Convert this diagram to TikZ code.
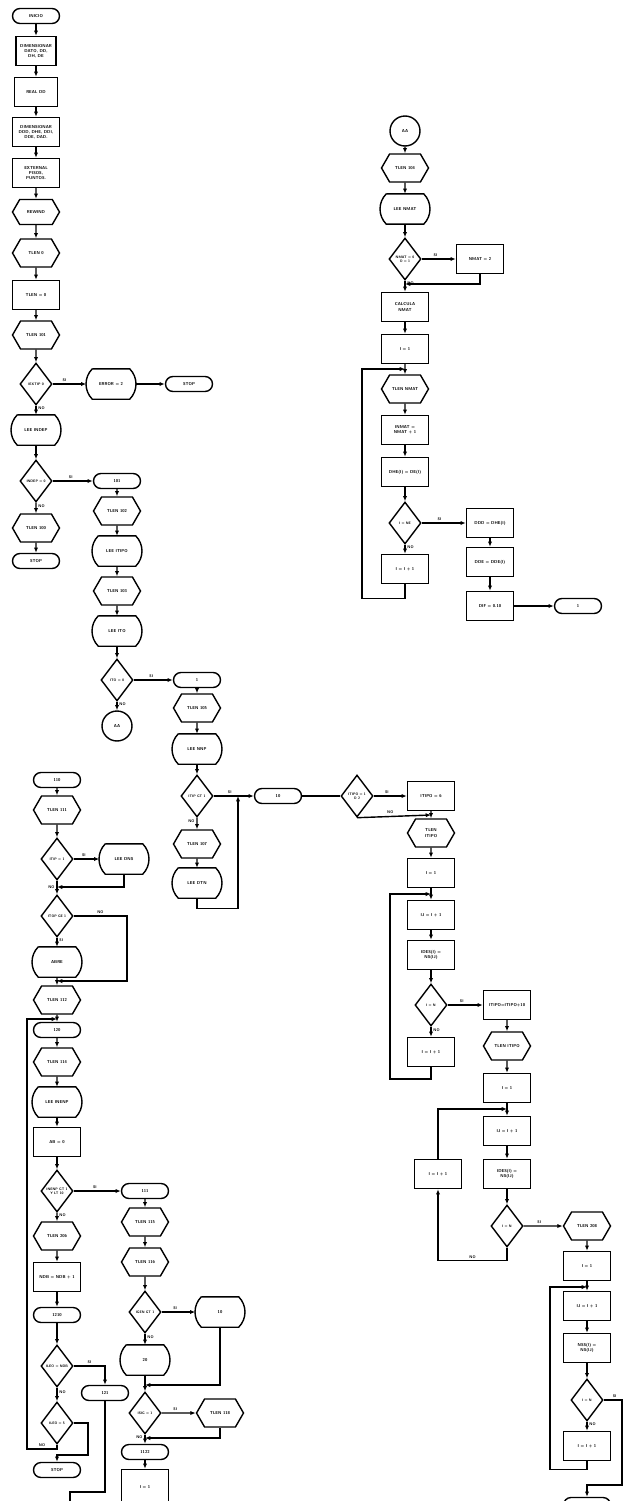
\documentclass[tikz,border=0pt]{standalone}
\usepackage{tikz}
\usetikzlibrary{arrows.meta,positioning,shapes.geometric,shapes.symbols,calc}

% read box: flat top and bottom, bulging sides
\newcommand{\leebox}[1]{%
  \draw ([xshift=0.12cm]#1.north west) -- ([xshift=-0.12cm]#1.north east)
    to[bend left=45] ([xshift=-0.12cm]#1.south east)
    -- ([xshift=0.12cm]#1.south west) to[bend left=45] ([xshift=0.12cm]#1.north west);}

\begin{document}
\begin{tikzpicture}[x=0.02cm, y=-0.02cm, line width=0.8pt,
  every node/.style={font=\fontsize{2.4}{3}\selectfont\sffamily\bfseries, inner sep=0pt, align=center},
  proc/.style={draw, rectangle, minimum width=0.94cm, minimum height=0.58cm},
  term/.style={draw, rectangle, rounded corners=0.15cm, minimum width=0.94cm, minimum height=0.3cm},
  hexa/.style={draw, signal, signal to=east and west, signal pointer angle=120, minimum width=0.94cm, minimum height=0.56cm},
  lee/.style={rectangle, minimum width=0.96cm, minimum height=0.58cm},
  cond/.style={draw, diamond, aspect=0.75, minimum width=0.64cm, minimum height=0.84cm, font=\fontsize{2}{2.5}\selectfont\sffamily\bfseries},
  conn/.style={draw, circle, minimum size=0.6cm},
  arr/.style={-{Latex[length=3pt,width=2.4pt]}},
  lbl/.style={font=\fontsize{2.2}{2.6}\selectfont\sffamily\bfseries, inner sep=1pt}]

  \useasboundingbox (0,0) rectangle (624,1501);
  \clip (0,0) rectangle (624,1501);

  % start of the program
  \node[term] (inicio) at (36,16) {INICIO};
  \node[proc, minimum width=0.8cm] (dimA) at (36,51) {DIMENSIONAR\\ DATO, DD,\\ DH, DE};
  \node[proc, minimum width=0.86cm] (realDD) at (36,92) {REAL DD};
  \node[proc] (dimB) at (36,132) {DIMENSIONAR\\ DDD, DHE, DDI,\\ DDE, DAD.};
  \node[proc] (extern) at (36,173) {EXTERNAL\\ PISOS,\\ PUNTOS.};
  \node[hexa, minimum height=0.5cm] (rewind) at (36,212) {REWIND};
  \node[hexa] (tlenA) at (36,253) {TLEN 0};
  \node[proc] (setT) at (36,295) {TLEN = 0};
  \node[hexa] (tlenB) at (36,335) {TLEN 101};
  \node[cond] (qExt) at (36,384) {IEXTIP 0};
  \node[lee] (err) at (111,384) {ERROR = 2};
  \node[term] (stopA) at (189,384) {STOP};
  \node[lee] (leeInd) at (36,430) {LEE INDEP};
  \node[cond] (qInd) at (36,481) {INDEP = 0};
  \node[hexa] (tlenC) at (36,528) {TLEN 100};
  \node[term] (stopB) at (36,561) {STOP};

  \draw[arr] (inicio) -- (dimA);
  \draw[arr] (dimA) -- (realDD);
  \draw[arr] (realDD) -- (dimB);
  \draw[arr] (dimB) -- (extern);
  \draw[arr] (extern) -- (rewind);
  \draw[arr] (rewind) -- (tlenA);
  \draw[arr] (tlenA) -- (setT);
  \draw[arr] (setT) -- (tlenB);
  \draw[arr] (tlenB) -- (qExt);
  \draw[arr] (qExt) -- node[lbl, above, pos=0.35] {SI} (err);
  \draw[arr] (err) -- (stopA);
  \draw[arr] (qExt) -- node[lbl, right, pos=0.3] {NO} (leeInd);
  \draw[arr] (leeInd) -- (qInd);
  \draw[arr] (qInd) -- node[lbl, right, pos=0.3] {NO} (tlenC);
  \draw[arr] (tlenC) -- (stopB);

  % branch 101
  \node[term] (t101) at (117,481) {101};
  \node[hexa] (tlenD) at (117,511) {TLEN 102};
  \node[lee] (leeTipo) at (117,551) {LEE ITIPO};
  \node[hexa] (tlenE) at (117,591) {TLEN 103};
  \node[lee] (leeIto) at (117,631) {LEE ITO};
  \node[cond] (qIto) at (117,680) {ITO = 0};
  \node[conn] (conAA) at (117,726) {AA};

  \draw[arr] (qInd) -- node[lbl, above, pos=0.45] {SI} (t101);
  \draw[arr] (t101) -- (tlenD);
  \draw[arr] (tlenD) -- (leeTipo);
  \draw[arr] (leeTipo) -- (tlenE);
  \draw[arr] (tlenE) -- (leeIto);
  \draw[arr] (leeIto) -- (qIto);
  \draw[arr] (qIto) -- node[lbl, right, pos=0.3] {NO} (conAA);

  % branch 1
  \node[term] (tOne) at (197,680) {1};
  \node[hexa] (tlenF) at (197,708) {TLEN 105};
  \node[lee] (leeNnp) at (197,749) {LEE NNP};
  \node[cond] (qTip) at (197,796) {ITIP GT 1};
  \node[hexa] (tlenG) at (197,844) {TLEN 107};
  \node[lee] (leeDtn) at (197,883) {LEE DTN};
  \node[term] (t10) at (278,796) {10};
  \coordinate (jTip) at (238,796);

  \draw[arr] (qIto) -- node[lbl, above, pos=0.45] {SI} (tOne);
  \draw[arr] (tOne) -- (tlenF);
  \draw[arr] (tlenF) -- (leeNnp);
  \draw[arr] (leeNnp) -- (qTip);
  \draw[arr] (qTip) -- node[lbl, above, pos=0.4] {SI} (t10);
  \draw[arr] (qTip) -- node[lbl, left, pos=0.3] {NO} (tlenG);
  \draw[arr] (tlenG) -- (leeDtn);
  \draw[arr] (leeDtn.south) -- ++(0,10) -| (jTip);

  % branch 10
  \node[cond] (qTipo) at (357,796) {ITIPO = 1\\ O 2};
  \node[proc] (setTipo) at (431,796) {ITIPO = 6};
  \node[hexa] (tlenH) at (431,833) {TLEN\\ ITIPO};
  \node[proc] (iOneA) at (431,873) {I = 1};
  \node[proc] (ijA) at (431,915) {IJ = I + 1};
  \node[proc] (desA) at (431,955) {IDES(I) =\\ NS(IJ)};
  \node[cond] (qNA) at (431,1005) {I = N};
  \node[proc] (incA) at (431,1052) {I = I + 1};
  \coordinate (jT2) at (431,815);
  \coordinate (jA) at (431,894);
  \coordinate (cA) at (390,1079);

  \draw (t10) -- (qTipo);
  \draw[arr] (qTipo) -- node[lbl, above, pos=0.4] {SI} (setTipo);
  \draw[arr] (qTipo.south) -- node[lbl, above, pos=0.45] {NO} (jT2);
  \draw[arr] (setTipo) -- (tlenH);
  \draw[arr] (tlenH) -- (iOneA);
  \draw[arr] (iOneA) -- (ijA);
  \draw[arr] (ijA) -- (desA);
  \draw[arr] (desA) -- (qNA);
  \draw[arr] (qNA) -- node[lbl, right, pos=0.3] {NO} (incA);
  \draw[arr] (incA.south) |- (cA) |- (jA);

  \node[proc] (addTipo) at (507,1005) {ITIPO=ITIPO+10};
  \node[hexa] (tlenI) at (507,1046) {TLEN ITIPO};
  \node[proc] (iOneB) at (507,1088) {I = 1};
  \node[proc] (ijB) at (507,1131) {IJ = I + 1};
  \node[proc] (desB) at (507,1174) {IDES(I) =\\ NS(IJ)};
  \node[cond] (qNB) at (507,1226) {I = N};
  \node[proc] (incB) at (438,1174) {I = I + 1};
  \coordinate (jB) at (507,1109);

  \draw[arr] (qNA) -- node[lbl, above, pos=0.4] {SI} (addTipo);
  \draw[arr] (addTipo) -- (tlenI);
  \draw[arr] (tlenI) -- (iOneB);
  \draw[arr] (iOneB) -- (ijB);
  \draw[arr] (ijB) -- (desB);
  \draw[arr] (desB) -- (qNB);
  \draw[arr] (qNB.south) -- ++(0,13) -| node[lbl, above, pos=0.25] {NO} (incB.south);
  \draw[arr] (incB.north) |- (jB);

  \node[hexa] (tlen208) at (587,1226) {TLEN 208};
  \node[proc] (iOneC) at (587,1266) {I = 1};
  \node[proc] (ijC) at (587,1306) {IJ = I + 1};
  \node[proc] (nssC) at (587,1348) {NSS(I) =\\ NS(IJ)};
  \node[cond] (qNC) at (587,1400) {I = N};
  \node[proc] (incC) at (587,1446) {I = I + 1};
  \node[term] (tEnd) at (587,1505) {};
  \coordinate (jC) at (587,1287);
  \coordinate (cC) at (550,1287);
  \coordinate (cD) at (622,1485);

  \draw[arr] (qNB) -- node[lbl, above, pos=0.4] {SI} (tlen208);
  \draw[arr] (tlen208) -- (iOneC);
  \draw[arr] (iOneC) -- (ijC);
  \draw[arr] (ijC) -- (nssC);
  \draw[arr] (nssC) -- (qNC);
  \draw[arr] (qNC) -- node[lbl, right, pos=0.3] {NO} (incC);
  \draw[arr] (incC.south) -- ++(0,8) -| (cC) -- (jC);
  \draw[arr] (qNC.east) -| node[lbl, above, pos=0.3] {SI} (cD) -| (tEnd.north);

  % connector AA
  \node[conn] (conAA2) at (405,131) {AA};
  \node[hexa] (tlenJ) at (405,168) {TLEN 104};
  \node[lee] (leeNmat) at (405,209) {LEE NMAT};
  \node[cond] (qNmat) at (405,259) {NMAT = 0\\ O = 1};
  \node[proc] (setNmat) at (480,259) {NMAT = 2};
  \node[proc] (calc) at (405,307) {CALCULA\\ NMAT};
  \node[proc] (iOneD) at (405,349) {I = 1};
  \node[hexa] (tlenK) at (405,389) {TLEN NMAT};
  \node[proc] (inmat) at (405,430) {INMAT =\\ NMAT + 1};
  \node[proc] (dhe) at (405,472) {DHE(I) = DE(I)};
  \node[cond] (qNE) at (405,523) {I = NE};
  \node[proc] (incD) at (405,569) {I = I + 1};
  \node[proc] (dddA) at (490,523) {DDD = DHE(I)};
  \node[proc] (dddB) at (490,562) {DDE = DDE(I)};
  \node[proc] (dif) at (490,606) {DIF = 0.10};
  \node[term] (tOneB) at (578,606) {1};
  \coordinate (jN) at (405,284);
  \coordinate (jD) at (405,369);
  \coordinate (cE) at (362,369);

  \draw[arr] (conAA2) -- (tlenJ);
  \draw[arr] (tlenJ) -- (leeNmat);
  \draw[arr] (leeNmat) -- (qNmat);
  \draw[arr] (qNmat) -- node[lbl, above, pos=0.4] {SI} (setNmat);
  \draw[arr] (setNmat.south) |- (jN);
  \draw[arr] (qNmat) -- node[lbl, right, pos=0.2] {NO} (calc);
  \draw[arr] (calc) -- (iOneD);
  \draw[arr] (iOneD) -- (tlenK);
  \draw[arr] (tlenK) -- (inmat);
  \draw[arr] (inmat) -- (dhe);
  \draw[arr] (dhe) -- (qNE);
  \draw[arr] (qNE) -- node[lbl, above, pos=0.4] {SI} (dddA);
  \draw[arr] (qNE) -- node[lbl, right, pos=0.3] {NO} (incD);
  \draw[arr] (incD.south) -- ++(0,14) -| (cE) -- (jD);
  \draw[arr] (dddA) -- (dddB);
  \draw[arr] (dddB) -- (dif);
  \draw[arr] (dif) -- (tOneB);

  % connector 110
  \node[term] (t110) at (57,780) {110};
  \node[hexa] (tlen111) at (57,810) {TLEN 111};
  \node[cond] (qTipA) at (57,859) {ITIP = 1};
  \node[lee] (leeDns) at (124,859) {LEE DNS};
  \node[cond] (qTopB) at (57,916) {ITOP GE 1};
  \node[lee] (abre) at (57,962) {ABRE};
  \node[hexa] (tlen112) at (57,1000) {TLEN 112};
  \node[term] (t120) at (57,1030) {120};
  \node[hexa] (tlen114) at (57,1062) {TLEN 114};
  \node[lee] (leeInenp) at (57,1102) {LEE INENP};
  \node[proc] (setAB) at (57,1142) {AB = 0};
  \node[cond] (qInenp) at (57,1191) {INENP GT 1\\ Y LT 10};
  \node[hexa] (tlen206) at (57,1236) {TLEN 206};
  \node[proc] (ndb) at (57,1277) {NDB = NDB + 1};
  \node[term] (t1210) at (57,1315) {1210};
  \node[cond] (qIleo) at (57,1366) {ILEO = NDB};
  \node[term] (t121) at (105,1393) {121};
  \node[cond] (qIleoB) at (57,1423) {ILEO = 5};
  \node[term] (stopC) at (57,1470) {STOP};
  \coordinate (jT) at (57,887);
  \coordinate (cF) at (127,981);
  \coordinate (jF) at (57,981);
  \coordinate (jL) at (57,1019);
  \coordinate (cG) at (88,1455);
  \coordinate (cH) at (27,1449);
  \coordinate (cI) at (70,1492);
  \coordinate (cJ) at (70,1510);

  \draw[arr] (t110) -- (tlen111);
  \draw[arr] (tlen111) -- (qTipA);
  \draw[arr] (qTipA) -- node[lbl, above, pos=0.4] {SI} (leeDns);
  \draw[arr] (leeDns.south) |- (jT);
  \draw[arr] (qTipA) -- node[lbl, left, pos=0.45] {NO} (qTopB);
  \draw[arr] (qTopB.east) -| node[lbl, above, pos=0.25] {NO} (cF) -- (jF);
  \draw[arr] (qTopB) -- node[lbl, right, pos=0.3] {SI} (abre);
  \draw[arr] (abre) -- (tlen112);
  \draw[arr] (tlen112) -- (t120);
  \draw[arr] (t120) -- (tlen114);
  \draw[arr] (tlen114) -- (leeInenp);
  \draw[arr] (leeInenp) -- (setAB);
  \draw[arr] (setAB) -- (qInenp);
  \draw[arr] (qInenp) -- node[lbl, right, pos=0.3] {NO} (tlen206);
  \draw[arr] (tlen206) -- (ndb);
  \draw[arr] (ndb) -- (t1210);
  \draw[arr] (t1210) -- (qIleo);
  \draw[arr] (qIleo.east) -| node[lbl, above, pos=0.25] {SI} (t121.north);
  \draw[arr] (qIleo) -- node[lbl, right, pos=0.3] {NO} (qIleoB);
  \draw[arr] (qIleoB.east) -| (cG) -| (stopC.north);
  \draw[arr] (qIleoB.south) |- node[lbl, above, pos=0.75] {NO} (cH) |- (jL);
  \draw[arr] (t121.south) |- (cI) -- (cJ);

  % connector 111
  \node[term] (t111) at (145,1191) {111};
  \node[hexa] (tlen115) at (145,1222) {TLEN 115};
  \node[hexa] (tlen116) at (145,1262) {TLEN 116};
  \node[cond] (qIgen) at (145,1312) {IGEN GT 1};
  \node[lee] (lee10) at (220,1312) {10};
  \node[lee] (lee20) at (145,1360) {20};
  \node[cond] (qIsig) at (145,1413) {ISIG = 1};
  \node[hexa] (tlen118) at (220,1413) {TLEN 118};
  \node[term] (t1122) at (145,1452) {1122};
  \node[proc, minimum height=0.7cm] (iOneE) at (145,1487) {I = 1};
  \coordinate (jM) at (145,1385);
  \coordinate (jP) at (145,1438);

  \draw[arr] (qInenp) -- node[lbl, above, pos=0.45] {SI} (t111);
  \draw[arr] (t111) -- (tlen115);
  \draw[arr] (tlen115) -- (tlen116);
  \draw[arr] (tlen116) -- (qIgen);
  \draw[arr] (qIgen) -- node[lbl, above, pos=0.4] {SI} (lee10);
  \draw[arr] (qIgen) -- node[lbl, right, pos=0.3] {NO} (lee20);
  \draw[arr] (lee10.south) |- (jM);
  \draw[arr] (lee20) -- (qIsig);
  \draw[arr] (qIsig) -- node[lbl, above, pos=0.4] {SI} (tlen118);
  \draw[arr] (tlen118.south) |- (jP);
  \draw[arr] (qIsig) -- node[lbl, left, pos=0.3] {NO} (t1122);
  \draw[arr] (t1122) -- (iOneE);

  % read boxes
  \foreach \n in {err, leeInd, leeTipo, leeIto, leeNnp, leeDtn, leeNmat, leeDns, abre, leeInenp, lee10, lee20}
    {\leebox{\n}}
\end{tikzpicture}
\end{document}
